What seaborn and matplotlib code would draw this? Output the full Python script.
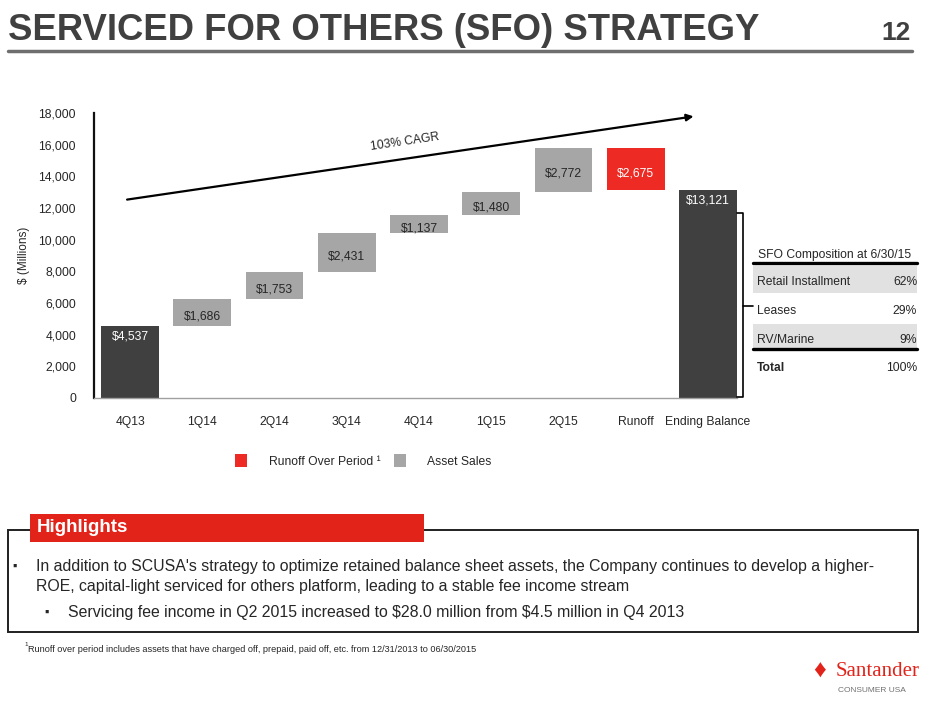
import pandas as pd
import matplotlib
matplotlib.use('Agg')
import matplotlib.pyplot as plt
from matplotlib.patches import Patch, Rectangle
from matplotlib.lines import Line2D
import seaborn as sns

# waterfall data ($ millions)
categories = ['4Q13', '1Q14', '2Q14', '3Q14', '4Q14', '1Q15', '2Q15', 'Runoff', 'Ending Balance']
amounts = [4537, 1686, 1753, 2431, 1137, 1480, 2772, 2675, 13121]
kinds = ['total', 'sale', 'sale', 'sale', 'sale', 'sale', 'sale', 'runoff', 'total']

comp_labels = ['Retail Installment', 'Leases', 'RV/Marine']
comp_values = ['62%', '29%', '9%']
comp_total = '100%'

colors = {'total': '#404040', 'sale': '#A6A6A6', 'runoff': '#EE2A24'}
text_colors = {'total': 'white', 'sale': '#262626', 'runoff': 'white'}

# floating bar bottoms
bases = []
level = 0
for amt, kind in zip(amounts, kinds):
    if kind == 'total':
        bases.append(0)
        level = amt
    elif kind == 'sale':
        bases.append(level)
        level += amt
    else:
        level -= amt
        bases.append(level)

df = pd.DataFrame({'period': categories, 'amount': amounts, 'base': bases, 'kind': kinds})

sns.set_style('white')
plt.rcParams['font.family'] = ['Liberation Sans', 'DejaVu Sans']

fig = plt.figure(figsize=(9.4, 7.05), dpi=100)
W, H = 940, 705


def fx(px):
    return px / W


def fy(py):
    return 1 - py / H


ax = fig.add_axes([fx(94), fy(398), fx(744) - fx(94), fy(113) - fy(398)])
sns.barplot(data=df, x='period', y='amount', bottom=df['base'], color='#A6A6A6',
            width=0.8, ax=ax, saturation=1)
for patch, kind in zip(ax.patches, df['kind']):
    patch.set_facecolor(colors[kind])
    patch.set_edgecolor('none')

for i, row in df.iterrows():
    if row['kind'] == 'total':
        ypos = row['amount'] - 650
    else:
        ypos = row['base'] + row['amount'] / 2 - 250
    ax.text(i, ypos, f"${row['amount']:,}", ha='center', va='center', fontsize=8.7,
            color=text_colors[row['kind']])

ax.set_xlim(-0.5, 8.5)
ax.set_ylim(0, 18000)
ax.set_yticks(range(0, 18001, 2000))
ax.set_yticklabels([f'{v:,}' for v in range(0, 18001, 2000)])
ax.set_xlabel('')
ax.set_ylabel('$ (Millions)', fontsize=8.5, labelpad=6)
ax.tick_params(axis='y', length=5, width=1, color='#202020', labelsize=8.7, pad=8)
ax.tick_params(axis='x', length=5, width=1, color='#707070', labelsize=8.7, pad=8)
sns.despine(ax=ax, top=True, right=True)
ax.spines['left'].set_color('#101010')
ax.spines['left'].set_linewidth(1.6)
ax.spines['bottom'].set_color('#A0A0A0')
ax.spines['bottom'].set_linewidth(1)
ax.spines['bottom'].set_bounds(-0.5, 8.4)
ax.set_facecolor('none')

# CAGR arrow
ax.annotate('', xy=(7.84, 17810), xytext=(-0.08, 12505),
            arrowprops=dict(arrowstyle='-|>', color='black', lw=1.6, mutation_scale=10),
            annotation_clip=False)
ax.text(3.80, 16150, '103% CAGR', rotation=8.4, ha='center', va='center', fontsize=8.7,
        rotation_mode='anchor')

# legend
handles = [Patch(facecolor=colors['runoff'], edgecolor='none', label='Runoff Over Period \u00b9'),
           Patch(facecolor=colors['sale'], edgecolor='none', label='Asset Sales')]
fig.legend(handles=handles, loc='center left', bbox_to_anchor=(fx(224), fy(461)), ncol=2,
           frameon=False, fontsize=8.7, handlelength=1.0, handleheight=1.2,
           handletextpad=1.8, columnspacing=1.1)

# bracket beside ending balance
fig.add_artist(Line2D([fx(737), fx(743), fx(743), fx(737)], [fy(213), fy(213), fy(397), fy(397)],
                      color='black', lw=1.2))
fig.add_artist(Line2D([fx(743), fx(753)], [fy(306), fy(306)], color='black', lw=1.2))

# composition table
tl, tr = 753, 917
fig.text(fx(835), fy(255), 'SFO Composition at 6/30/15', ha='center', va='center', fontsize=8.7)
fig.add_artist(Line2D([fx(tl), fx(tr)], [fy(263), fy(263)], color='black', lw=2.4))
row_y = [282, 311, 340]
for j, (lab, val) in enumerate(zip(comp_labels, comp_values)):
    if j % 2 == 0:
        fig.add_artist(Rectangle((fx(tl), fy(row_y[j] + 11)), fx(tr) - fx(tl), fy(row_y[j] - 16) - fy(row_y[j] + 11),
                                 transform=fig.transFigure, facecolor='#E1E1E1', edgecolor='none'))
    fig.text(fx(tl + 4), fy(row_y[j]), lab, ha='left', va='center', fontsize=8.7)
    fig.text(fx(tr), fy(row_y[j]), val, ha='right', va='center', fontsize=8.7)
fig.add_artist(Line2D([fx(tl), fx(tr)], [fy(349), fy(349)], color='black', lw=2.4))
fig.text(fx(tl + 4), fy(368), 'Total', ha='left', va='center', fontsize=8.7, fontweight='bold')
fig.text(fx(tr), fy(368), comp_total, ha='right', va='center', fontsize=8.7)

# title
fig.text(fx(8), fy(31), 'SERVICED FOR OTHERS (SFO) STRATEGY', ha='left', va='center',
         fontsize=26.3, fontweight='bold', color='#404040')
fig.text(fx(911), fy(33), '12', ha='right', va='center', fontsize=19, fontweight='bold',
         color='#404040')
fig.add_artist(Line2D([fx(8), fx(912)], [fy(51), fy(51)], color='#6E6E6E', lw=2.5))

# highlights box
fig.add_artist(Rectangle((fx(8), fy(632)), fx(918) - fx(8), fy(530) - fy(632), transform=fig.transFigure,
                         facecolor='none', edgecolor='#202020', lw=1.4))
fig.add_artist(Rectangle((fx(30), fy(542)), fx(424) - fx(30), fy(514) - fy(542), transform=fig.transFigure,
                         facecolor='#E2231A', edgecolor='none'))
fig.text(fx(37), fy(528), 'Highlights', ha='left', va='center', fontsize=13.5, fontweight='bold', color='white')
fig.text(fx(12), fy(567), '\u25aa', ha='left', va='center', fontsize=9)
fig.text(fx(36), fy(567), "In addition to SCUSA's strategy to optimize retained balance sheet assets, the Company continues to develop a higher-",
         ha='left', va='center', fontsize=11.4)
fig.text(fx(36), fy(587), 'ROE, capital-light serviced for others platform, leading to a stable fee income stream',
         ha='left', va='center', fontsize=11.4)
fig.text(fx(44), fy(613), '\u25aa', ha='left', va='center', fontsize=9)
fig.text(fx(68), fy(613), 'Servicing fee income in Q2 2015 increased to \\$28.0 million from \\$4.5 million in Q4 2013',
         ha='left', va='center', fontsize=11.4)

# footnote
fig.text(fx(24), fy(645), '1', ha='left', va='center', fontsize=4.5)
fig.text(fx(28), fy(649), 'Runoff over period includes assets that have charged off, prepaid, paid off, etc. from 12/31/2013 to 06/30/2015',
         ha='left', va='center', fontsize=6.6)

# logo text
fig.text(fx(920), fy(671), 'Santander', ha='right', va='center', fontsize=15, color='#E2231A',
         family=['Liberation Serif', 'DejaVu Serif'])
fig.text(fx(838), fy(691), 'CONSUMER USA', ha='left', va='center', fontsize=6, color='#707070')
fig.text(fx(820), fy(671), '\u2666', ha='center', va='center', fontsize=18, color='#E2231A')

fig.savefig('out.png', dpi=100)
